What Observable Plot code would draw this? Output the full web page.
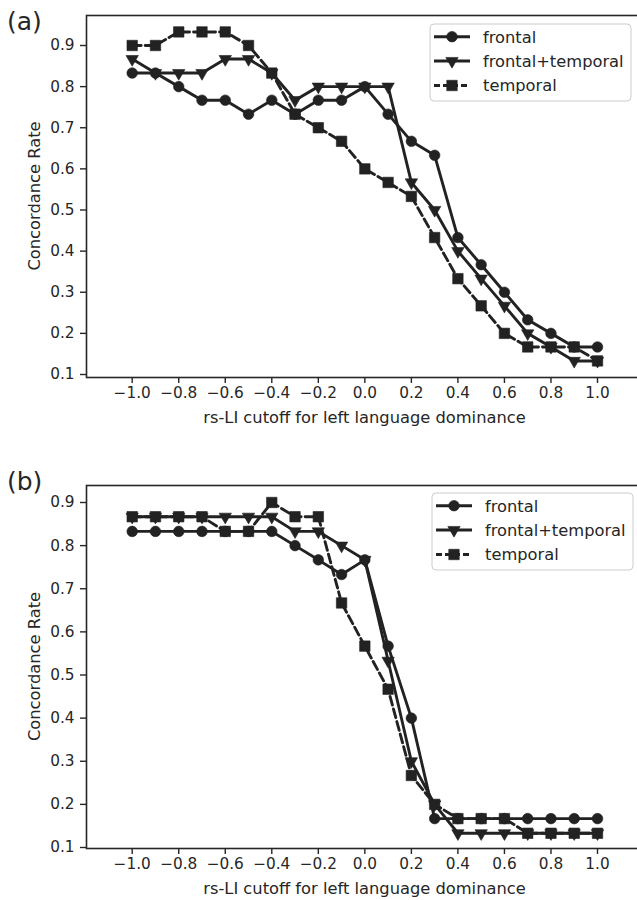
<!DOCTYPE html>
<html><head><meta charset="utf-8">
<script src="https://cdn.jsdelivr.net/npm/d3@7"></script>
<script src="https://cdn.jsdelivr.net/npm/@observablehq/plot@0.6"></script>
<style>
body{margin:0;background:#fff;}
#root{width:637px;height:900px;position:relative;overflow:hidden;background:#fff;}
.panel{position:absolute;left:0;width:637px;height:450px;}
svg{font-family:"DejaVu Sans",sans-serif;}
</style></head><body><div id="root"></div>
<script>
// ---- data ----
const cutoffs = [-1.0,-0.9,-0.8,-0.7,-0.6,-0.5,-0.4,-0.3,-0.2,-0.1,0.0,0.1,0.2,0.3,0.4,0.5,0.6,0.7,0.8,0.9,1.0];
const seriesNames = ["frontal","frontal+temporal","temporal"];
const xTicks = [-1.0,-0.8,-0.6,-0.4,-0.2,0.0,0.2,0.4,0.6,0.8,1.0];
const yTicks = [0.1,0.2,0.3,0.4,0.5,0.6,0.7,0.8,0.9];
const xLabel = "rs-LI cutoff for left language dominance";
const yLabel = "Concordance Rate";
const panelLabels = ["(a)","(b)"];

const aFrontal = [0.833,0.833,0.8,0.767,0.767,0.733,0.767,0.733,0.767,0.767,0.8,0.733,0.667,0.633,0.433,0.367,0.3,0.233,0.2,0.167,0.167];
const aFrontalTemporal = [0.867,0.833,0.833,0.833,0.867,0.867,0.833,0.767,0.8,0.8,0.8,0.8,0.567,0.5,0.4,0.333,0.267,0.2,0.167,0.133,0.133];
const aTemporal = [0.9,0.9,0.933,0.933,0.933,0.9,0.833,0.733,0.7,0.667,0.6,0.567,0.533,0.433,0.333,0.267,0.2,0.167,0.167,0.167,0.133];

const bFrontal = [0.833,0.833,0.833,0.833,0.833,0.833,0.833,0.8,0.767,0.733,0.767,0.567,0.4,0.167,0.167,0.167,0.167,0.167,0.167,0.167,0.167];
const bFrontalTemporal = [0.867,0.867,0.867,0.867,0.867,0.867,0.867,0.833,0.833,0.8,0.767,0.533,0.3,0.2,0.133,0.133,0.133,0.133,0.133,0.133,0.133];
const bTemporal = [0.867,0.867,0.867,0.867,0.833,0.833,0.9,0.867,0.867,0.667,0.567,0.467,0.267,0.2,0.167,0.167,0.167,0.133,0.133,0.133,0.133];

// ---- styling ----
const INK = "#222222";
const TXT = "#262626";
const styles = {
  "frontal": {symbol: "circle", r: 5.3, rotate: 0, dash: null},
  "frontal+temporal": {symbol: "triangle", r: 4.6, rotate: 180, dash: null},
  "temporal": {symbol: "square", r: 5.9, rotate: 0, dash: "9,4"}
};
const fmtX = d => (d < -1e-9 ? "\u2212" : "") + Math.abs(d).toFixed(1);
const fmtY = d => d.toFixed(1);
const FRAME_L = 86, FRAME_R = 643;

function makePanel(top, values, cfg) {
  const marks = [
    Plot.axisX(xTicks, {tickSize: 6, tickPadding: 4, tickFormat: fmtX, label: null, fontSize: 15.3, stroke: TXT, strokeWidth: 1.4, fill: TXT}),
    Plot.axisY(yTicks, {tickSize: 6, tickPadding: 6, tickFormat: fmtY, label: null, fontSize: 15.3, stroke: TXT, strokeWidth: 1.4, fill: TXT})
  ];
  seriesNames.forEach((name, i) => {
    const rows = cutoffs.map((c, j) => ({cutoff: c, rate: values[i][j]}));
    const s = styles[name];
    marks.push(Plot.line(rows, {x: "cutoff", y: "rate", stroke: INK, strokeWidth: 2.9, strokeDasharray: s.dash, strokeLinejoin: "miter"}));
    marks.push(Plot.dot(rows, {x: "cutoff", y: "rate", symbol: s.symbol, r: s.r, rotate: s.rotate, fill: INK, stroke: INK, strokeWidth: 0.6}));
  });
  marks.push(Plot.frame({stroke: TXT, strokeWidth: 1.6}));

  const svg = Plot.plot({
    width: 637, height: 450,
    marginLeft: FRAME_L, marginRight: 637 - FRAME_R, marginTop: cfg.mt, marginBottom: 450 - cfg.frameBottom,
    style: {fontFamily: "DejaVu Sans", color: TXT, background: "white", overflow: "visible"},
    x: {domain: [-1, 1], range: [131.7, 597]},
    y: {domain: [0.1, 0.9], range: cfg.yRange},
    marks
  });
  const div = document.createElement("div");
  div.className = "panel";
  div.style.top = top + "px";
  div.appendChild(svg);
  document.getElementById("root").appendChild(div);

  const g = d3.select(svg).append("g").attr("font-family", "DejaVu Sans").attr("text-anchor", "start");
  // panel letter
  g.append("text").attr("x", 7).attr("y", cfg.letterY).attr("font-size", 25).attr("fill", TXT).attr("text-anchor", "start").text(cfg.letter);
  // y label
  g.append("text").attr("transform", `translate(40,${(cfg.mt + cfg.frameBottom) / 2}) rotate(-90)`)
    .attr("text-anchor", "middle").attr("font-size", 16.3).attr("fill", TXT).text(yLabel);
  // x label
  g.append("text").attr("x", (FRAME_L + FRAME_R) / 2).attr("y", cfg.frameBottom + 46)
    .attr("text-anchor", "middle").attr("font-size", 16.3).attr("fill", TXT).text(xLabel);
  // legend
  const L = g.append("g").attr("transform", `translate(${cfg.legX},${cfg.legY})`);
  L.append("rect").attr("width", 201).attr("height", 77).attr("rx", 4)
    .attr("fill", "white").attr("fill-opacity", 0.85).attr("stroke", "#cccccc").attr("stroke-width", 1);
  const rowsY = [12.7, 37, 61.5];
  seriesNames.forEach((name, i) => {
    const s = styles[name];
    const yy = rowsY[i];
    L.append("line").attr("x1", 4).attr("x2", 40).attr("y1", yy).attr("y2", yy)
      .attr("stroke", INK).attr("stroke-width", 2.9).attr("stroke-dasharray", s.dash ? "6,3" : null);
    const sym = {circle: d3.symbolCircle, triangle: d3.symbolTriangle, square: d3.symbolSquare}[s.symbol];
    L.append("path").attr("d", d3.symbol(sym, Math.PI * s.r * s.r)())
      .attr("transform", `translate(22,${yy}) rotate(${s.rotate})`).attr("fill", INK).attr("stroke", INK).attr("stroke-width", 0.6);
    L.append("text").attr("x", 53).attr("y", yy + 5.8).attr("font-size", 16.3).attr("fill", TXT).attr("text-anchor", "start").text(name);
  });
}

makePanel(0, [aFrontal, aFrontalTemporal, aTemporal],
  {mt: 15, frameBottom: 377, yRange: [374, 45], letter: panelLabels[0], letterY: 30, legX: 430, legY: 24});
makePanel(450, [bFrontal, bFrontalTemporal, bTemporal],
  {mt: 35, frameBottom: 398, yRange: [397, 52], letter: panelLabels[1], letterY: 40, legX: 432, legY: 43});
</script>
</body></html>
